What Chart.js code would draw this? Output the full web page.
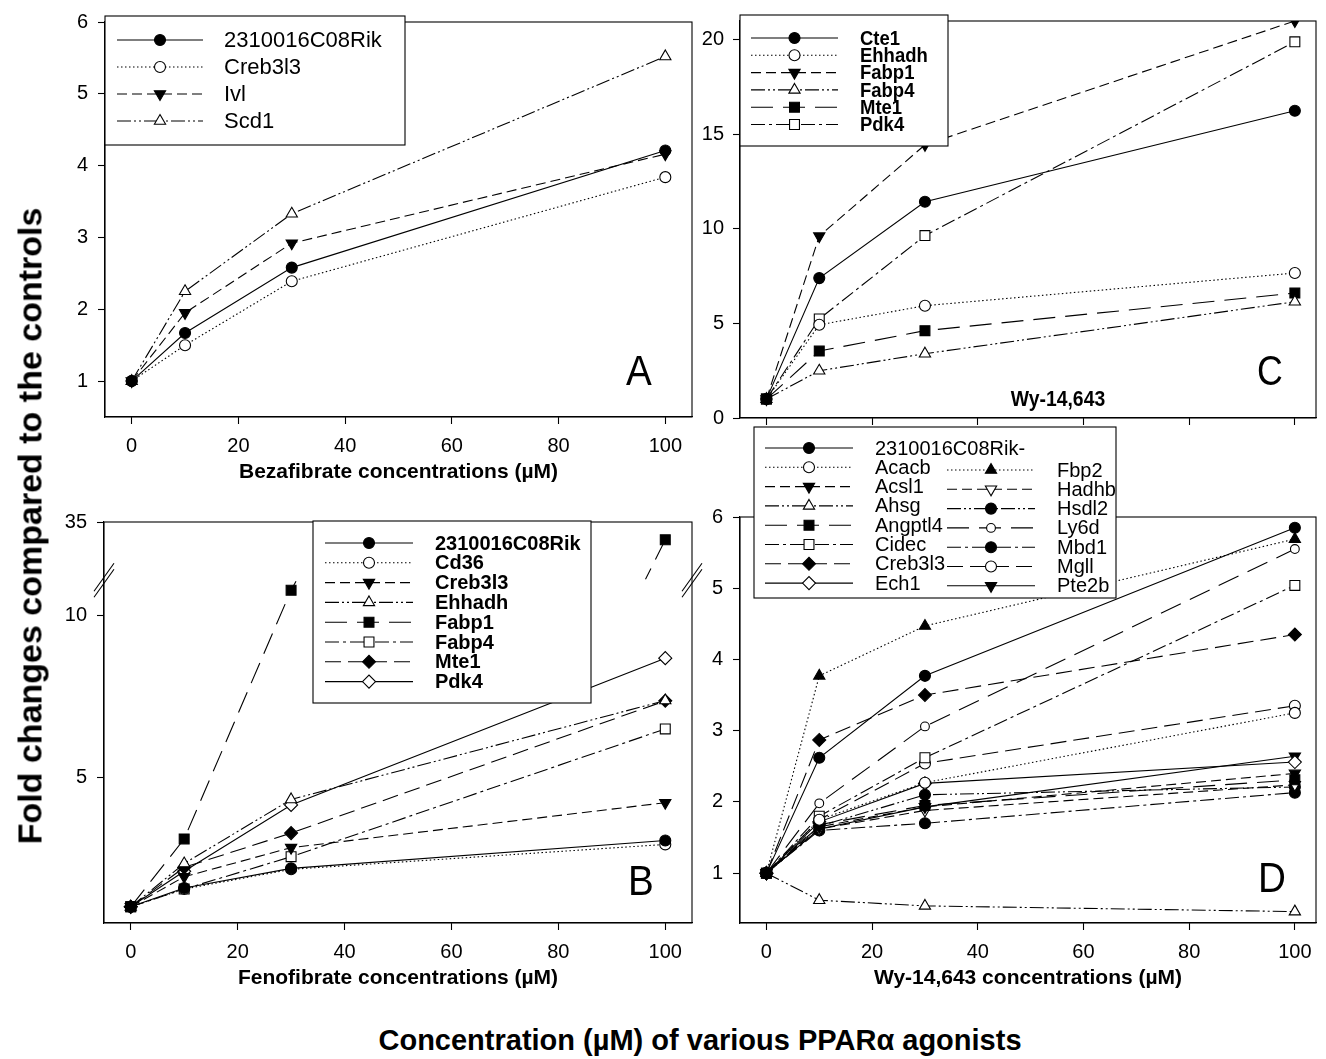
<!DOCTYPE html>
<html>
<head>
<meta charset="utf-8">
<title>PPARα agonists – fold changes</title>
<script src="https://cdn.jsdelivr.net/npm/chart.js@4.4.1/dist/chart.umd.min.js"></script>
<style>
  body { margin: 0; background: #fff; width: 1326px; height: 1059px; position: relative; overflow: hidden;
         font-family: "Liberation Sans", Arial, Helvetica, sans-serif; }
  canvas { position: absolute; }
  #yTitle { position: absolute; left: 30px; top: 526px; transform: translate(-50%, -50%) rotate(-90deg);
            white-space: nowrap; font-weight: bold; font-size: 34px; }
  #xTitle { position: absolute; left: 700px; top: 1040px; transform: translate(-50%, -50%);
            white-space: nowrap; font-weight: bold; font-size: 29px; }
</style>
</head>
<body>
<canvas id="chartA" width="705" height="500" style="left:0;top:0"></canvas>
<canvas id="chartB" width="705" height="500" style="left:0;top:500px"></canvas>
<canvas id="chartC" width="646" height="440" style="left:680px;top:0"></canvas>
<canvas id="chartD" width="646" height="580" style="left:680px;top:420px"></canvas>
<div id="yTitle">Fold changes compared to the controls</div>
<div id="xTitle">Concentration (µM) of various PPARα agonists</div>

<script>
// ---- data ----
const doses = [0, 10, 30, 100];
const xTicks = [0, 20, 40, 60, 80, 100];
const yTicksA = [1, 2, 3, 4, 5, 6];
const yTicksB = [5, 10, 35];
const yTicksC = [0, 5, 10, 15, 20];
const yTicksD = [1, 2, 3, 4, 5, 6];

// A: Bezafibrate
const genesA = ['2310016C08Rik', 'Creb3l3', 'Ivl', 'Scd1'];
const foldA = [
  [1, 1.67, 2.58, 4.21],
  [1, 1.50, 2.39, 3.84],
  [1, 1.95, 2.92, 4.16],
  [1, 2.25, 3.33, 5.52]
];

// B: Fenofibrate
const genesB = ['2310016C08Rik', 'Cd36', 'Creb3l3', 'Ehhadh', 'Fabp1', 'Fabp4', 'Mte1', 'Pdk4'];
const foldB = [
  [1, 1.58, 2.19, 3.05],
  [1, 1.55, 2.16, 2.93],
  [1, 1.93, 2.83, 4.22],
  [1, 2.34, 4.32, 7.38],
  [1, 3.10, 10.79, 34.45],
  [1, 1.55, 2.55, 6.50],
  [1, 2.22, 3.28, 7.37],
  [1, 2.10, 4.15, 8.69]
];

// C: Wy-14,643
const genesC = ['Cte1', 'Ehhadh', 'Fabp1', 'Fabp4', 'Mte1', 'Pdk4'];
const foldC = [
  [1, 7.40, 11.44, 16.25],
  [1, 4.93, 5.94, 7.67],
  [1, 9.62, 14.45, 21.0],
  [1, 2.50, 3.40, 6.15],
  [1, 3.54, 4.62, 6.61],
  [1, 5.24, 9.65, 19.90]
];

// D: Wy-14,643
const genesD = ['2310016C08Rik-', 'Acacb', 'Acsl1', 'Ahsg', 'Angptl4', 'Cidec', 'Creb3l3', 'Ech1',
                'Fbp2', 'Hadhb', 'Hsdl2', 'Ly6d', 'Mbd1', 'Mgll', 'Pte2b'];
const foldD = [
  [1, 2.62, 3.77, 5.85],
  [1, 1.75, 2.27, 3.25],
  [1, 1.65, 1.93, 2.40],
  [1, 0.62, 0.54, 0.46],
  [1, 1.68, 1.95, 2.31],
  [1, 1.80, 2.62, 5.04],
  [1, 2.87, 3.50, 4.35],
  [1, 1.72, 2.26, 2.56],
  [1, 3.77, 4.47, 5.69],
  [1, 1.62, 1.88, 2.24],
  [1, 1.66, 2.10, 2.21],
  [1, 1.98, 3.06, 5.55],
  [1, 1.60, 1.70, 2.13],
  [1, 1.75, 2.54, 3.35],
  [1, 1.62, 1.93, 2.64]
];

// ---- styles (SigmaPlot-like cycle) ----
const FONT = '"Liberation Sans", Arial, Helvetica, sans-serif';
const DASHES = {
  solid: [],
  dot: [1.5, 2.5],
  dash: [10, 5],
  dashDotDot: [14, 3, 2, 3, 2, 3],
  longDash: [22, 10],
  dashDot: [14, 4, 3, 4],
  medDash: [16, 7]
};
const lineCycle = ['solid', 'dot', 'dash', 'dashDotDot', 'longDash', 'dashDot', 'medDash', 'solid',
                   'dot', 'dash', 'dashDotDot', 'longDash', 'dashDot', 'medDash', 'solid'];
const markerCycle = [
  { shape: 'circle', filled: true },
  { shape: 'circle', filled: false },
  { shape: 'triangle', filled: true, down: true },
  { shape: 'triangle', filled: false },
  { shape: 'rect', filled: true },
  { shape: 'rect', filled: false },
  { shape: 'rectRot', filled: true },
  { shape: 'rectRot', filled: false },
  { shape: 'triangle', filled: true },
  { shape: 'triangle', filled: false, down: true },
  { shape: 'circle', filled: true },
  { shape: 'circle', filled: false, small: true },
  { shape: 'circle', filled: true },
  { shape: 'circle', filled: false },
  { shape: 'triangle', filled: true, down: true }
];
const RADII = { circle: 5.5, triangle: 6.5, rect: 7, rectRot: 6.5 };

// ---- broken axis for panel B ----
const BREAK_LO = 11.1;
const BREAK_HI = 33.2;
function squeeze(v) {
  if (v <= BREAK_LO) return v;
  if (v >= BREAK_HI) return v - (BREAK_HI - BREAK_LO);
  return BREAK_LO;
}
function crossesBreak(a, b) {
  return (a < BREAK_LO && b > BREAK_HI) || (b < BREAK_LO && a > BREAK_HI);
}
class BrokenScale extends Chart.LinearScale {
  getPixelForValue(v) {
    return super.getPixelForValue(v === null ? null : squeeze(v));
  }
}
BrokenScale.id = 'brokenLinear';
BrokenScale.defaults = Chart.LinearScale.defaults;
Chart.register(BrokenScale);

Chart.defaults.font.family = FONT;
Chart.defaults.color = '#000';

function makeDatasets(names, values, broken) {
  return names.map((name, i) => {
    const m = markerCycle[i];
    const ds = {
      label: name,
      data: doses.map((x, k) => ({ x: x, y: values[i][k] })),
      borderColor: '#000',
      borderWidth: 1.1,
      borderDash: DASHES[lineCycle[i]],
      tension: 0,
      fill: false,
      pointStyle: m.shape,
      pointRotation: m.down ? 180 : 0,
      pointRadius: RADII[m.shape] * (m.small ? 0.8 : 1),
      pointBackgroundColor: m.filled ? '#000' : '#fff',
      pointBorderColor: '#000',
      pointBorderWidth: 1.1
    };
    if (broken) {
      ds.segment = {
        borderColor: ctx => crossesBreak(ctx.p0.parsed.y, ctx.p1.parsed.y) ? 'rgba(0,0,0,0)' : undefined
      };
    }
    return ds;
  });
}

function xAxis(min, max, height, title) {
  return {
    type: 'linear', position: 'bottom', min: min, max: max,
    afterBuildTicks: s => { s.ticks = xTicks.map(v => ({ value: v })); },
    afterFit: s => { s.height = height; },
    grid: { drawOnChartArea: false, drawTicks: true, tickLength: 7, tickWidth: 1.1, tickColor: '#000', color: '#000' },
    border: { display: true, color: '#000', width: 1.1 },
    ticks: { color: '#000', font: { size: 20 }, padding: 10, maxRotation: 0, autoSkip: false,
             callback: title ? (v => String(v)) : (() => '') },
    title: title ? { display: true, text: title, color: '#000', font: { size: 21, weight: 'bold' },
                     padding: { top: 0, bottom: 4 } } : { display: false }
  };
}

function yAxis(type, min, max, width, ticks, pad) {
  return {
    type: type, position: 'left', min: min, max: max,
    afterBuildTicks: s => { s.ticks = ticks.map(v => ({ value: v })); },
    afterFit: s => { s.width = width; },
    grid: { drawOnChartArea: false, drawTicks: true, tickLength: 7, tickWidth: 1.1, tickColor: '#000', color: '#000' },
    border: { display: true, color: '#000', width: 1.1 },
    ticks: { color: '#000', font: { size: 20 }, padding: pad, autoSkip: false, callback: v => String(v) }
  };
}

// text that may be drawn horizontally condensed (sx < 1)
function condensedText(ctx, text, x, y, sx) {
  ctx.save();
  ctx.translate(x, y);
  ctx.scale(sx || 1, 1);
  ctx.fillText(text, 0, 0);
  ctx.restore();
}

function drawLegend(chart, lg) {
  const ctx = chart.ctx;
  ctx.save();
  ctx.fillStyle = '#fff';
  ctx.fillRect(lg.x, lg.y, lg.w, lg.h);
  ctx.strokeStyle = '#000';
  ctx.lineWidth = 1.1;
  ctx.setLineDash([]);
  ctx.strokeRect(lg.x, lg.y, lg.w, lg.h);
  lg.cols.forEach(col => {
    for (let k = 0; k < col.count; k++) {
      const ds = chart.data.datasets[col.first + k];
      const y = col.y0 + k * lg.rowH;
      ctx.strokeStyle = '#000';
      ctx.lineWidth = 1.1;
      ctx.setLineDash(ds.borderDash);
      ctx.beginPath();
      ctx.moveTo(col.lineX, y);
      ctx.lineTo(col.lineX + lg.lineW, y);
      ctx.stroke();
      ctx.setLineDash([]);
      ctx.fillStyle = ds.pointBackgroundColor;
      Chart.helpers.drawPoint(ctx, {
        pointStyle: ds.pointStyle, rotation: ds.pointRotation,
        radius: ds.pointRadius, borderWidth: ds.pointBorderWidth
      }, col.lineX + lg.lineW / 2, y);
      ctx.fillStyle = '#000';
      ctx.font = lg.font;
      ctx.textAlign = 'left';
      ctx.textBaseline = 'middle';
      condensedText(ctx, ds.label, col.textX, y + 1, lg.sx);
    }
  });
  ctx.restore();
}

function decor(cfg) {
  return {
    id: 'decor',
    afterDatasetsDraw(chart) {
      const ctx = chart.ctx;
      const a = chart.chartArea;
      ctx.save();
      // pieces of lines that jump across the axis break
      if (cfg.broken) {
        const xs = chart.scales.x, ys = chart.scales.y;
        chart.data.datasets.forEach(ds => {
          const pts = ds.data;
          for (let k = 1; k < pts.length; k++) {
            let p0 = pts[k - 1], p1 = pts[k];
            if (!crossesBreak(p0.y, p1.y)) continue;
            if (p0.y > p1.y) { const t = p0; p0 = p1; p1 = t; }
            const xa = p0.x + (p1.x - p0.x) * (BREAK_LO - p0.y) / (p1.y - p0.y);
            const xb = p0.x + (p1.x - p0.x) * (BREAK_HI - p0.y) / (p1.y - p0.y);
            ctx.save();
            ctx.beginPath();
            ctx.rect(a.left, a.top, a.right - a.left, a.bottom - a.top);
            ctx.clip();
            ctx.strokeStyle = '#000';
            ctx.lineWidth = ds.borderWidth;
            ctx.setLineDash(ds.borderDash);
            ctx.beginPath();
            ctx.moveTo(xs.getPixelForValue(p0.x), ys.getPixelForValue(p0.y));
            ctx.lineTo(xs.getPixelForValue(xa), ys.getPixelForValue(BREAK_LO) + 1);
            ctx.stroke();
            ctx.beginPath();
            ctx.moveTo(xs.getPixelForValue(p1.x), ys.getPixelForValue(p1.y));
            ctx.lineTo(xs.getPixelForValue(xb), ys.getPixelForValue(BREAK_HI) - 1);
            ctx.stroke();
            ctx.restore();
          }
        });
      }
      // frame
      ctx.setLineDash([]);
      ctx.strokeStyle = '#000';
      ctx.lineWidth = 1.1;
      ctx.strokeRect(a.left, a.top, a.right - a.left, a.bottom - a.top);
      // break marks
      if (cfg.broken) {
        const yb = chart.scales.y.getPixelForValue(BREAK_LO);
        [a.left, a.right].forEach(xe => {
          [-3, 3].forEach(off => {
            ctx.beginPath();
            ctx.moveTo(xe - 10, yb + off + 14);
            ctx.lineTo(xe + 10, yb + off - 14);
            ctx.stroke();
          });
        });
      }
      // panel letter and notes
      ctx.fillStyle = '#000';
      ctx.textAlign = 'center';
      ctx.textBaseline = 'middle';
      ctx.font = '42px ' + FONT;
      condensedText(ctx, cfg.letter[0], cfg.letter[1], cfg.letter[2], cfg.letterSx || 0.92);
      if (cfg.note) {
        ctx.font = 'bold 22px ' + FONT;
        condensedText(ctx, cfg.note[0], cfg.note[1], cfg.note[2], 0.88);
      }
      ctx.restore();
    },
    afterDraw(chart) {
      drawLegend(chart, cfg.legend);
    }
  };
}

function buildChart(id, names, values, opts) {
  return new Chart(document.getElementById(id), {
    type: 'line',
    data: { datasets: makeDatasets(names, values, opts.broken) },
    options: {
      responsive: false,
      animation: false,
      events: [],
      layout: { padding: opts.padding },
      plugins: { legend: { display: false }, tooltip: { enabled: false } },
      scales: { x: opts.x, y: opts.y }
    },
    plugins: [decor(opts)]
  });
}

// Panel A
buildChart('chartA', genesA, foldA, {
  padding: { left: 55, right: 13, top: 16, bottom: 11 },
  x: xAxis(-5, 105, 72, 'Bezafibrate concentrations (µM)'),
  y: yAxis('linear', 0.5, 6, 50, yTicksA, 10),
  letter: ['A', 639, 373],
  legend: { x: 105, y: 16, w: 300, h: 129, rowH: 27, lineW: 86, font: '22px ' + FONT,
            cols: [{ first: 0, count: 4, y0: 40, lineX: 117, textX: 224 }] }
});

// Panel B (broken y axis)
buildChart('chartB', genesB, foldB, {
  broken: true,
  padding: { left: 54, right: 13, top: 17, bottom: 5 },
  x: xAxis(-5, 105, 72, 'Fenofibrate concentrations (µM)'),
  y: yAxis('brokenLinear', 0.5, 35 - (BREAK_HI - BREAK_LO), 50, yTicksB, 10),
  letter: ['B', 641, 383],
  legend: { x: 313, y: 21, w: 278, h: 182, rowH: 19.8, lineW: 88, font: 'bold 20px ' + FONT,
            cols: [{ first: 0, count: 8, y0: 43, lineX: 325, textX: 435 }] }
});

// Panel C
buildChart('chartC', genesC, foldC, {
  padding: { left: 5, right: 10, top: 15, bottom: 14 },
  x: xAxis(-5, 104, 8, null),
  y: yAxis('linear', 0, 21, 55, yTicksC, 9),
  letter: ['C', 590, 373],
  letterSx: 0.85,
  note: ['Wy-14,643', 378, 400],
  legend: { x: 60, y: 15, w: 208, h: 131, rowH: 17.3, lineW: 87, font: 'bold 21px ' + FONT, sx: 0.88,
            cols: [{ first: 0, count: 6, y0: 38, lineX: 71, textX: 180 }] }
});

// Panel D
buildChart('chartD', genesD, foldD, {
  padding: { left: 5, right: 10, top: 97, bottom: 5 },
  x: xAxis(-5, 104, 72, 'Wy-14,643 concentrations (µM)'),
  y: yAxis('linear', 0.3, 6, 55, yTicksD, 10),
  letter: ['D', 592, 460],
  legend: { x: 74, y: 7, w: 362, h: 171, rowH: 19.3, lineW: 88, font: '20px ' + FONT,
            cols: [{ first: 0, count: 8, y0: 28, lineX: 85, textX: 195 },
                   { first: 8, count: 7, y0: 50, lineX: 267, textX: 377 }] }
});
</script>
</body>
</html>
